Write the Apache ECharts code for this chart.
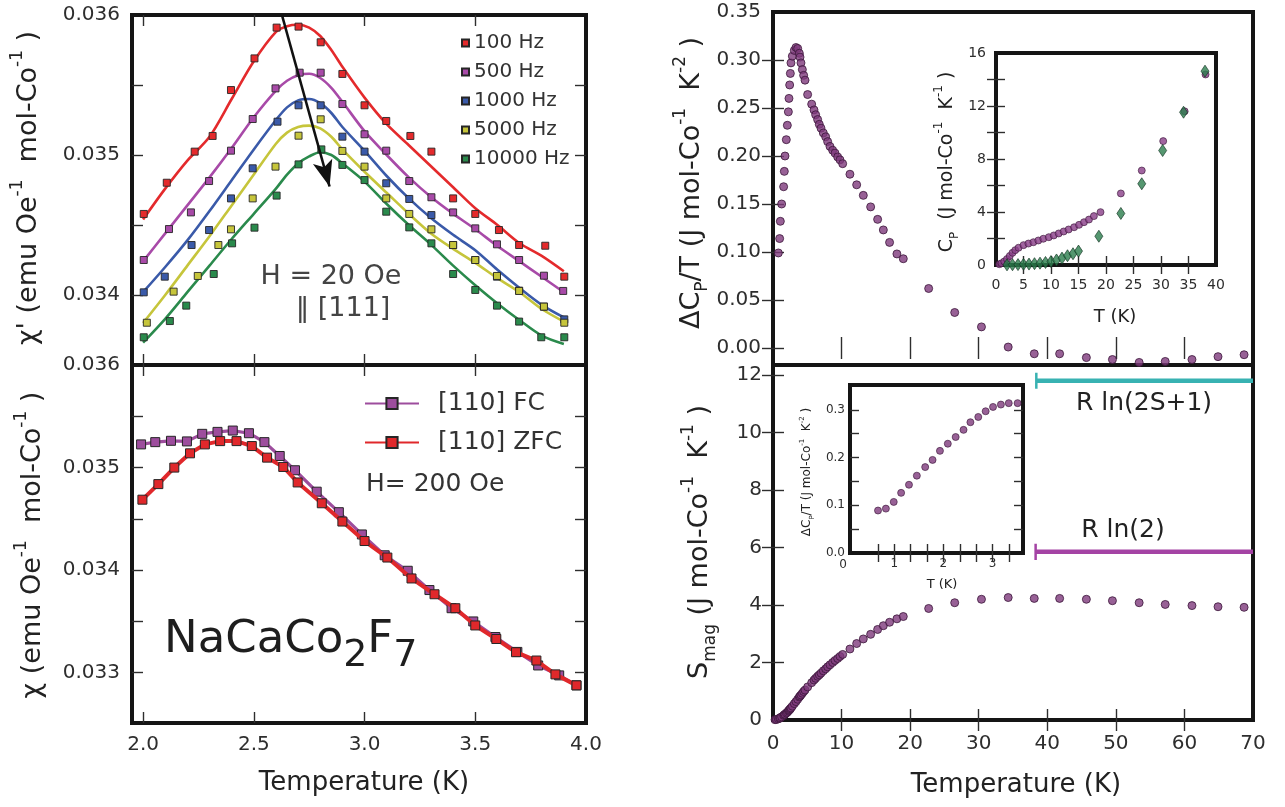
<!DOCTYPE html>
<html>
<head>
<meta charset="utf-8">
<title>NaCaCo2F7 susceptibility and specific heat</title>
<script src="https://cdn.jsdelivr.net/npm/echarts@6.0.0/dist/echarts.min.js"></script>
<style>
  html, body { margin: 0; padding: 0; background: #ffffff; }
  #chart { width: 1285px; height: 807px; }
</style>
</head>
<body>
<div id="chart"></div>
<script>
// ---------- chi'(T), AC susceptibility, H = 20 Oe || [111] ----------
const acLabels = ['100 Hz', '500 Hz', '1000 Hz', '5000 Hz', '10000 Hz'];
const acColors = ['#e42a2c', '#a84aa8', '#3a5aa9', '#c6c53b', '#2a8a4c'];

const acT100   = [2.003, 2.107, 2.233, 2.314, 2.397, 2.503, 2.603, 2.702, 2.802, 2.900, 3.000, 3.098, 3.207, 3.302, 3.400, 3.500, 3.607, 3.698, 3.816, 3.902];
const acChi100 = [0.034579, 0.034802, 0.035024, 0.035136, 0.035464, 0.035690, 0.035910, 0.035917, 0.035805, 0.035579, 0.035355, 0.035243, 0.035136, 0.035024, 0.034690, 0.034579, 0.034464, 0.034357, 0.034352, 0.034131];
const acT500   = [2.003, 2.117, 2.216, 2.298, 2.397, 2.495, 2.598, 2.707, 2.802, 2.900, 3.000, 3.098, 3.202, 3.302, 3.400, 3.500, 3.598, 3.698, 3.810, 3.897];
const acChi500 = [0.034250, 0.034471, 0.034590, 0.034814, 0.035031, 0.035257, 0.035476, 0.035588, 0.035588, 0.035364, 0.035148, 0.035031, 0.034814, 0.034698, 0.034590, 0.034476, 0.034362, 0.034250, 0.034138, 0.034029];
const acT1k    = [2.003, 2.098, 2.219, 2.298, 2.397, 2.495, 2.607, 2.702, 2.802, 2.900, 3.000, 3.098, 3.202, 3.302, 3.400, 3.500, 3.598, 3.698, 3.810, 3.902];
const acChi1k  = [0.034019, 0.034131, 0.034357, 0.034464, 0.034690, 0.034905, 0.035238, 0.035355, 0.035355, 0.035131, 0.035024, 0.034798, 0.034686, 0.034571, 0.034357, 0.034250, 0.034131, 0.034031, 0.033917, 0.033826];
const acT5k    = [2.017, 2.138, 2.247, 2.340, 2.397, 2.495, 2.598, 2.702, 2.802, 2.900, 3.000, 3.098, 3.202, 3.302, 3.400, 3.500, 3.598, 3.698, 3.810, 3.902];
const acChi5k  = [0.033802, 0.034024, 0.034136, 0.034357, 0.034469, 0.034690, 0.034917, 0.035138, 0.035255, 0.035029, 0.034917, 0.034690, 0.034579, 0.034469, 0.034357, 0.034250, 0.034136, 0.034029, 0.033917, 0.033802];
const acT10k   = [2.003, 2.121, 2.195, 2.319, 2.402, 2.503, 2.603, 2.702, 2.805, 2.900, 3.000, 3.098, 3.202, 3.302, 3.400, 3.500, 3.598, 3.698, 3.798, 3.902];
const acChi10k = [0.033698, 0.033814, 0.033924, 0.034150, 0.034369, 0.034481, 0.034710, 0.034933, 0.035040, 0.034929, 0.034821, 0.034595, 0.034483, 0.034369, 0.034150, 0.034036, 0.033924, 0.033810, 0.033698, 0.033698];

// fitted curves through each frequency
const fitT      = [2.0, 2.1, 2.2, 2.3, 2.4, 2.5, 2.6, 2.65, 2.7, 2.75, 2.8, 2.85, 2.9, 3.0, 3.1, 3.2, 3.3, 3.4, 3.5, 3.6, 3.7, 3.8, 3.9];
const fit100    = [0.03454, 0.03476, 0.03496, 0.03513, 0.03540, 0.03567, 0.03588, 0.03592, 0.03593, 0.03591, 0.03585, 0.03575, 0.03563, 0.03541, 0.03522, 0.03507, 0.03492, 0.03477, 0.03462, 0.03450, 0.03437, 0.03428, 0.03417];
const fit500    = [0.03424, 0.03444, 0.03464, 0.03484, 0.03505, 0.03527, 0.03546, 0.03553, 0.03557, 0.03558, 0.03555, 0.03548, 0.03538, 0.03517, 0.03500, 0.03484, 0.03470, 0.03458, 0.03447, 0.03435, 0.03424, 0.03413, 0.03402];
const fit1k     = [0.03402, 0.03420, 0.03439, 0.03460, 0.03482, 0.03504, 0.03525, 0.03534, 0.03539, 0.03540, 0.03537, 0.03530, 0.03520, 0.03503, 0.03485, 0.03469, 0.03455, 0.03443, 0.03432, 0.03418, 0.03405, 0.03393, 0.03384];
const fit5k     = [0.03380, 0.03400, 0.03421, 0.03442, 0.03464, 0.03486, 0.03508, 0.03516, 0.03520, 0.03521, 0.03519, 0.03513, 0.03504, 0.03488, 0.03473, 0.03458, 0.03444, 0.03433, 0.03423, 0.03412, 0.03402, 0.03390, 0.03381];
const fit10k    = [0.03366, 0.03383, 0.03402, 0.03421, 0.03440, 0.03458, 0.03476, 0.03486, 0.03494, 0.03499, 0.03502, 0.03500, 0.03494, 0.03481, 0.03465, 0.03450, 0.03436, 0.03421, 0.03407, 0.03394, 0.03382, 0.03371, 0.03365];

// arrow marking the shift of the peak with frequency: [T, chi'] start and tip
const peakArrowFrom = [2.627, 0.03600];
const peakArrowTo   = [2.842, 0.034775];

// ---------- chi(T), DC susceptibility, H = 200 Oe || [110] ----------
const dcLabels = ['[110] FC', '[110] ZFC'];
const fcT    = [1.991, 2.055, 2.126, 2.198, 2.267, 2.336, 2.405, 2.478, 2.548, 2.617, 2.686, 2.784, 2.884, 2.988, 3.091, 3.195, 3.293, 3.393, 3.491, 3.591, 3.690, 3.784, 3.879, 3.957];
const fcChi  = [0.035226, 0.035248, 0.035261, 0.035255, 0.035329, 0.035348, 0.035361, 0.035335, 0.035248, 0.035113, 0.034974, 0.034765, 0.034565, 0.034348, 0.034145, 0.033994, 0.033806, 0.033629, 0.033500, 0.033348, 0.033203, 0.033071, 0.032974, 0.032877];
const zfcT   = [1.997, 2.069, 2.141, 2.212, 2.279, 2.348, 2.422, 2.491, 2.560, 2.633, 2.698, 2.807, 2.900, 3.000, 3.103, 3.212, 3.316, 3.410, 3.500, 3.595, 3.684, 3.776, 3.862, 3.957];
const zfcChi = [0.034687, 0.034839, 0.035000, 0.035139, 0.035226, 0.035258, 0.035258, 0.035210, 0.035097, 0.035006, 0.034855, 0.034652, 0.034474, 0.034284, 0.034123, 0.033919, 0.033765, 0.033629, 0.033461, 0.033329, 0.033200, 0.033119, 0.032984, 0.032877];

// ---------- magnetic specific heat  dCp/T (J mol-Co^-1 K^-2) ----------
const magT  = [0.78, 0.97, 1.07, 1.26, 1.55, 1.65, 1.75, 1.94, 2.09, 2.24, 2.33, 2.43, 2.53, 2.62, 2.82, 3.11, 3.35, 3.60, 3.84, 3.94, 4.08, 4.28, 4.47, 4.67, 5.05, 5.64, 5.98, 6.22, 6.51, 6.75, 7.00, 7.34, 7.68, 7.97, 8.31, 8.70, 9.04, 9.43, 9.77, 10.16, 11.22, 12.20, 13.17, 14.24, 15.26, 16.09, 17.0, 18.07, 19.0, 22.7, 26.5, 30.4, 34.3, 38.1, 41.8, 45.7, 49.5, 53.4, 57.2, 61.1, 64.9, 68.7];
const magCpT = [0.099, 0.114, 0.132, 0.150, 0.168, 0.184, 0.200, 0.217, 0.232, 0.246, 0.260, 0.274, 0.286, 0.297, 0.304, 0.310, 0.313, 0.312, 0.307, 0.303, 0.297, 0.290, 0.284, 0.279, 0.264, 0.254, 0.248, 0.243, 0.238, 0.233, 0.229, 0.224, 0.220, 0.215, 0.210, 0.206, 0.203, 0.199, 0.196, 0.192, 0.181, 0.170, 0.159, 0.147, 0.134, 0.123, 0.110, 0.098, 0.093, 0.062, 0.037, 0.022, 0.001, -0.006, -0.006, -0.010, -0.012, -0.015, -0.014, -0.012, -0.009, -0.007];

// total Cp (circles) and lattice Cp (diamonds), J mol-Co^-1 K^-1
const cpT      = [0.6, 1.0, 1.5, 2.0, 2.5, 3.0, 3.5, 4.1, 5.0, 5.9, 6.8, 7.7, 8.6, 9.6, 10.5, 11.4, 12.3, 13.2, 14.2, 15.1, 16.0, 16.9, 17.8, 19.0, 22.7, 26.5, 30.4, 34.3, 38.1];
const cpTotal  = [0.06, 0.13, 0.27, 0.45, 0.68, 0.92, 1.12, 1.30, 1.50, 1.62, 1.72, 1.85, 1.98, 2.10, 2.23, 2.38, 2.53, 2.68, 2.85, 3.03, 3.23, 3.43, 3.69, 3.99, 5.40, 7.13, 9.35, 11.60, 14.38];
const latT     = [2, 3, 4, 5, 6, 7, 8, 9, 10, 11, 12, 13, 14, 15, 18.7, 22.7, 26.5, 30.3, 34.1, 38.0];
const cpLattice = [0.01, 0.02, 0.03, 0.05, 0.07, 0.10, 0.14, 0.19, 0.26, 0.38, 0.52, 0.70, 0.85, 1.05, 2.17, 3.89, 6.13, 8.64, 11.53, 14.63];

// ---------- magnetic entropy S_mag (J mol-Co^-1 K^-1) ----------
const smT = [0.3, 0.5, 0.78, 0.97, 1.07, 1.26, 1.55, 1.65, 1.75, 1.94, 2.09, 2.24, 2.33, 2.43, 2.53, 2.62, 2.82, 3.11, 3.35, 3.60, 3.84, 3.94, 4.08, 4.28, 4.47, 4.67, 5.05, 5.64, 5.98, 6.22, 6.51, 6.75, 7.00, 7.34, 7.68, 7.97, 8.31, 8.70, 9.04, 9.43, 9.77, 10.16, 11.22, 12.20, 13.17, 14.24, 15.26, 16.09, 17.0, 18.07, 19.0, 22.7, 26.5, 30.4, 34.3, 38.1, 41.8, 45.7, 49.5, 53.4, 57.2, 61.1, 64.9, 68.7];
const smS = [0.01, 0.02, 0.04, 0.06, 0.08, 0.11, 0.16, 0.18, 0.20, 0.24, 0.27, 0.31, 0.34, 0.36, 0.39, 0.42, 0.48, 0.57, 0.64, 0.72, 0.80, 0.83, 0.87, 0.93, 0.99, 1.04, 1.15, 1.30, 1.39, 1.45, 1.52, 1.57, 1.63, 1.71, 1.78, 1.85, 1.92, 2.00, 2.07, 2.14, 2.21, 2.28, 2.47, 2.66, 2.82, 2.98, 3.15, 3.28, 3.40, 3.52, 3.60, 3.88, 4.08, 4.20, 4.26, 4.23, 4.23, 4.20, 4.15, 4.08, 4.02, 3.98, 3.94, 3.92];

// entropy plateaus: R ln(2S+1) and R ln(2), drawn from T = plateauFrom to the axis end
const plateauNames  = ['R ln(2S+1)', 'R ln(2)'];
const plateauLevels = [11.8, 5.85];
const plateauFrom   = [38.4, 38.3];
const plateauColors = ['#38b2b2', '#a443a4'];

// low-temperature detail of dCp/T
const lowT    = [0.67, 0.83, 0.99, 1.14, 1.30, 1.46, 1.63, 1.78, 1.93, 2.09, 2.25, 2.41, 2.55, 2.71, 2.86, 3.01, 3.17, 3.33, 3.51];
const lowCpT  = [0.089, 0.093, 0.107, 0.126, 0.143, 0.162, 0.180, 0.195, 0.214, 0.229, 0.243, 0.258, 0.274, 0.285, 0.297, 0.306, 0.311, 0.314, 0.314];

// ---------- tick positions and labels ----------
const chiTTicks      = [2.0, 2.5, 3.0, 3.5];
const chiTLabels     = [2.0, 2.5, 3.0, 3.5, 4.0];
const acChiTicks     = [0.034, 0.0345, 0.035, 0.0355];
const acChiLabels    = [0.034, 0.035, 0.036];
const dcChiTicks     = [0.033, 0.0335, 0.034, 0.0345, 0.035, 0.0355];
const dcChiLabels    = [0.033, 0.034, 0.035, 0.036];
const tempTicks      = [10, 20, 30, 40, 50, 60];
const tempLabels     = [0, 10, 20, 30, 40, 50, 60, 70];
const cpTTicks       = [0, 0.05, 0.10, 0.15, 0.20, 0.25, 0.30];
const cpTLabels      = [0, 0.05, 0.10, 0.15, 0.20, 0.25, 0.30, 0.35];
const smTicks        = [2, 4, 6, 8, 10, 12];
const smLabels       = [0, 2, 4, 6, 8, 10, 12];
const cpInsetTTicks  = [5, 10, 15, 20, 25, 30, 35];
const cpInsetTLabels = [0, 5, 10, 15, 20, 25, 30, 35, 40];
const cpInsetYTicks  = [2, 4, 6, 8, 10, 12, 14];
const cpInsetYLabels = [0, 4, 8, 12, 16];
const lowTTicks      = [0.6667, 1, 1.3333, 1.6667, 2, 2.3333, 2.6667, 3, 3.3333];
const lowTLabels     = [1, 2, 3];
const lowYTicks      = [0.05, 0.10, 0.15, 0.20, 0.25, 0.30];
const lowYLabels     = [0, 0.1, 0.2, 0.3];

const FONT = 'DejaVu Sans';
const INK = '#2e2e2e';
const FRAME = '#151515';
const zip = (xs, ys) => xs.map((x, i) => [x, ys[i]]);

// plot panels (pixel boxes)
const grids = [
  { left: 132, top: 15,  width: 454, height: 350 },  // chi' AC
  { left: 132, top: 365, width: 454, height: 358 },  // chi DC
  { left: 773, top: 12,  width: 480, height: 353 },  // dCp/T
  { left: 773, top: 365, width: 480, height: 355 },  // S_mag
  { left: 996, top: 53,  width: 220, height: 212 },  // Cp inset
  { left: 850, top: 385, width: 173, height: 168 }   // low-T inset
].map(g => Object.assign({ show: true, borderColor: FRAME, borderWidth: 4, backgroundColor: 'rgba(0,0,0,0)' }, g));

const xAxes = [], yAxes = [];
function frame(gi, c) {
  ['bottom', 'top'].forEach((pos, k) => xAxes.push({
    type: 'value', gridIndex: gi, position: pos, min: c.xMin, max: c.xMax,
    axisLine: { show: false }, splitLine: { show: false },
    axisTick: { show: true, inside: true, length: c.tick, customValues: c.xTicks, lineStyle: { color: INK, width: 1.4 } },
    axisLabel: { show: k === 0 && !!c.xLabels, customValues: c.xLabels || [], formatter: c.xFmt,
      margin: c.xMargin, fontSize: c.fs, fontFamily: FONT, color: INK }
  }));
  ['left', 'right'].forEach((pos, k) => yAxes.push({
    type: 'value', gridIndex: gi, position: pos, min: c.yMin, max: c.yMax,
    axisLine: { show: false }, splitLine: { show: false },
    axisTick: { show: true, inside: true, length: c.tick, customValues: c.yTicks, lineStyle: { color: INK, width: 1.4 } },
    axisLabel: { show: k === 0 && !!c.yLabels, customValues: c.yLabels || [], formatter: c.yFmt,
      margin: c.yMargin, fontSize: c.fs, fontFamily: FONT, color: INK }
  }));
}
const f1 = v => v.toFixed(1), f2 = v => v.toFixed(2), f3 = v => v.toFixed(3), f0 = v => String(Math.round(v));

frame(0, { xMin: 1.95, xMax: 4.0, xTicks: chiTTicks, yMin: 0.0335, yMax: 0.036, yTicks: acChiTicks, yLabels: acChiLabels, yFmt: f3, yMargin: 12, tick: 11, fs: 20 });
frame(1, { xMin: 1.95, xMax: 4.0, xTicks: chiTTicks, xLabels: chiTLabels, xFmt: f1, xMargin: 12, yMin: 0.03251, yMax: 0.036, yTicks: dcChiTicks, yLabels: dcChiLabels, yFmt: f3, yMargin: 12, tick: 11, fs: 20 });
frame(2, { xMin: 0, xMax: 70, xTicks: tempTicks, yMin: -0.0177, yMax: 0.35, yTicks: cpTTicks, yLabels: cpTLabels, yFmt: f2, yMargin: 12, tick: 11, fs: 20 });
frame(3, { xMin: 0, xMax: 70, xTicks: tempTicks, xLabels: tempLabels, xFmt: f0, xMargin: 14, yMin: 0, yMax: 12.35, yTicks: smTicks, yLabels: smLabels, yFmt: f0, yMargin: 11, tick: 11, fs: 20 });
frame(4, { xMin: 0, xMax: 40, xTicks: cpInsetTTicks, xLabels: cpInsetTLabels, xFmt: f0, xMargin: 13, yMin: 0, yMax: 16, yTicks: cpInsetYTicks, yLabels: cpInsetYLabels, yFmt: f0, yMargin: 10, tick: 9, fs: 14 });
frame(5, { xMin: 0.1, xMax: 3.62, xTicks: lowTTicks, xLabels: lowTLabels, xFmt: f0, xMargin: 5, yMin: 0, yMax: 0.352, yTicks: lowYTicks, yLabels: lowYLabels, yFmt: f1, yMargin: 5, tick: 9, fs: 12 });

const onGrid = gi => ({ xAxisIndex: 2 * gi, yAxisIndex: 2 * gi });
const series = [];

// AC susceptibility: fitted curves, then the measured squares
const acPoints = [zip(acT100, acChi100), zip(acT500, acChi500), zip(acT1k, acChi1k), zip(acT5k, acChi5k), zip(acT10k, acChi10k)];
const acFits = [fit100, fit500, fit1k, fit5k, fit10k];
acLabels.forEach((name, i) => {
  series.push(Object.assign({
    type: 'line', name: name + ' fit', data: zip(fitT, acFits[i]), smooth: 0.3,
    symbol: 'none', showSymbol: false, silent: true, z: 2,
    lineStyle: { color: acColors[i], width: 2.6 }
  }, onGrid(0)));
});
acLabels.forEach((name, i) => {
  series.push(Object.assign({
    type: 'scatter', name, data: acPoints[i], symbol: 'rect', symbolSize: 7, z: 3,
    itemStyle: { color: acColors[i], borderColor: '#262626', borderWidth: 0.9, opacity: 1 }
  }, onGrid(0)));
});
// frequency-shift arrow: shaft plus a notched head at the tip
series.push(Object.assign({
  id: 'arrowShaft', type: 'line', name: 'peak shift', data: [peakArrowFrom, peakArrowTo], symbol: 'none', silent: true, z: 5,
  lineStyle: { color: '#111', width: 2.6 }
}, onGrid(0)));
series.push(Object.assign({
  id: 'arrowHead', type: 'scatter', name: 'peak shift head', data: [peakArrowTo], silent: true, z: 6,
  symbol: 'path://M0,0 L10,6 L20,0 L10,26 Z', symbolKeepAspect: false, symbolSize: [20, 26],
  itemStyle: { color: '#111', opacity: 1 }
}, onGrid(0)));

// DC susceptibility, field cooled and zero-field cooled
[[fcT, fcChi, '#9d4d9d', 3.2], [zfcT, zfcChi, '#e0282b', 4]].forEach(([t, c, col, w], i) => {
  series.push(Object.assign({
    type: 'line', name: dcLabels[i], data: zip(t, c), symbol: 'rect', symbolSize: 9, showAllSymbol: true, z: 3 + i,
    lineStyle: { color: col, width: w }, itemStyle: { color: col, borderColor: '#262626', borderWidth: 1 }
  }, onGrid(1)));
});

// dCp/T
series.push(Object.assign({
  type: 'scatter', name: 'dCp/T', data: zip(magT, magCpT), symbol: 'circle', symbolSize: 8,
  itemStyle: { color: '#7e397c', borderColor: '#3b1639', borderWidth: 1 }
}, onGrid(2)));

// Cp inset
series.push(Object.assign({
  type: 'scatter', name: 'Cp', data: zip(cpT, cpTotal), symbol: 'circle', symbolSize: 7,
  itemStyle: { color: '#8a3f88', borderColor: '#3b1639', borderWidth: 0.8 }
}, onGrid(4)));
series.push(Object.assign({
  type: 'scatter', name: 'Cp lattice', data: zip(latT, cpLattice), symbol: 'diamond', symbolSize: [8, 12], z: 4,
  itemStyle: { color: '#2a7d4c', borderColor: '#123322', borderWidth: 0.8 }
}, onGrid(4)));

// entropy
series.push(Object.assign({
  type: 'scatter', name: 'S_mag', data: zip(smT, smS), symbol: 'circle', symbolSize: 8,
  itemStyle: { color: '#7e397c', borderColor: '#3b1639', borderWidth: 1 }
}, onGrid(3)));
plateauLevels.forEach((lvl, i) => {
  series.push(Object.assign({
    type: 'line', name: plateauNames[i], data: [[plateauFrom[i], lvl], [70, lvl]], symbol: 'none', silent: true,
    lineStyle: { color: plateauColors[i], width: 4.5 }
  }, onGrid(3)));
  series.push(Object.assign({
    type: 'line', name: plateauNames[i] + ' cap', data: [[plateauFrom[i], lvl - 0.28], [plateauFrom[i], lvl + 0.28]], symbol: 'none', silent: true,
    lineStyle: { color: plateauColors[i], width: 2.5 }
  }, onGrid(3)));
});

// low-temperature inset
series.push(Object.assign({
  type: 'scatter', name: 'dCp/T low', data: zip(lowT, lowCpT), symbol: 'circle', symbolSize: 7,
  itemStyle: { color: '#7e397c', borderColor: '#3b1639', borderWidth: 0.8 }
}, onGrid(5)));

// text: axis titles with super/subscripts, annotations
const richFor = (fs) => ({
  sup: { fontSize: Math.round(fs * 0.62), fontFamily: FONT, fill: '#222', verticalAlign: 'top', lineHeight: Math.round(fs * 0.62) },
  sub: { fontSize: Math.round(fs * 0.62), fontFamily: FONT, fill: '#222', verticalAlign: 'bottom', lineHeight: Math.round(fs * 0.62) }
});
function label(x, y, text, fs, opts = {}) {
  return {
    type: 'text', x, y, rotation: opts.rot ? Math.PI / 2 : 0, z: 100, silent: true,
    style: {
      text, fontSize: fs, fontFamily: FONT, fill: opts.color || '#222',
      align: opts.align || 'center', verticalAlign: 'middle', lineHeight: Math.round(fs * 1.45),
      rich: richFor(fs)
    }
  };
}
const graphics = [
  label(29, 188, "\u03c7' (emu Oe{sup|-1}  mol-Co{sup|-1} )", 27, { rot: true }),
  label(33, 545, '\u03c7 (emu Oe{sup|-1}  mol-Co{sup|-1} )', 27, { rot: true }),
  label(692, 183, '\u0394C{sub|P}/T (J mol-Co{sup|-1}  K{sup|-2} )', 27, { rot: true }),
  label(700, 542, 'S{sub|mag} (J mol-Co{sup|-1}  K{sup|-1} )', 27, { rot: true }),
  label(364, 783, 'Temperature (K)', 26),
  label(1016, 785, 'Temperature (K)', 26),
  label(331, 277, 'H = 20 Oe', 27, { color: '#444' }),
  label(343, 309, '\u2016 [111]', 27, { color: '#444' }),
  label(366, 484, 'H= 200 Oe', 25, { align: 'left', color: '#333' }),
  label(1144, 403, plateauNames[0], 25),
  label(1123, 530, plateauNames[1], 25),
  label(1115, 317, 'T (K)', 18),
  label(947, 162, 'C{sub|P}  (J mol-Co{sup|-1}  K{sup|-1} )', 19, { rot: true }),
  label(942, 585, 'T (K)', 13),
  label(807, 472, '\u0394C{sub|P}/T (J mol-Co{sup|-1}  K{sup|-2} )', 12, { rot: true }),
  label(843, 565, '0', 12, { color: INK }),
  {
    type: 'text', x: 164, y: 640, z: 100, silent: true,
    style: {
      text: 'NaCaCo{s|2}F{s|7}', fontSize: 45, fontFamily: FONT, fill: '#1e1e1e',
      align: 'left', verticalAlign: 'middle', lineHeight: 70,
      rich: { s: { fontSize: 38, fontFamily: FONT, fill: '#1e1e1e', verticalAlign: 'bottom', lineHeight: 38 } }
    }
  }
];

const chart = echarts.init(document.getElementById('chart'), null, { renderer: 'canvas' });
chart.setOption({
  animation: false,
  backgroundColor: '#ffffff',
  textStyle: { fontFamily: FONT },
  grid: grids,
  xAxis: xAxes,
  yAxis: yAxes,
  legend: [
    {
      data: acLabels, orient: 'vertical', left: 461, top: 33, padding: 0, itemGap: 9,
      itemWidth: 7, itemHeight: 7, selectedMode: false,
      textStyle: { fontSize: 20, fontFamily: FONT, color: '#333', lineHeight: 18 }
    },
    {
      data: dcLabels, orient: 'vertical', left: 364, top: 391, padding: 0, itemGap: 14,
      itemWidth: 54, itemHeight: 14, selectedMode: false,
      textStyle: { fontSize: 25, fontFamily: FONT, color: '#333', lineHeight: 24, padding: [0, 0, 0, 14] }
    }
  ],
  series,
  graphic: graphics
});

// orient the arrow head along the shaft and put its tip on the end point
const finder = { seriesId: 'arrowShaft' };
const a0 = chart.convertToPixel(finder, peakArrowFrom);
const a1 = chart.convertToPixel(finder, peakArrowTo);
const theta = Math.atan2(a1[0] - a0[0], a1[1] - a0[1]);
const half = 13;
chart.setOption({
  series: [{
    id: 'arrowHead',
    symbolRotate: theta * 180 / Math.PI,
    symbolOffset: [-half * Math.sin(theta), -half * Math.cos(theta)]
  }]
});
</script>
</body>
</html>
